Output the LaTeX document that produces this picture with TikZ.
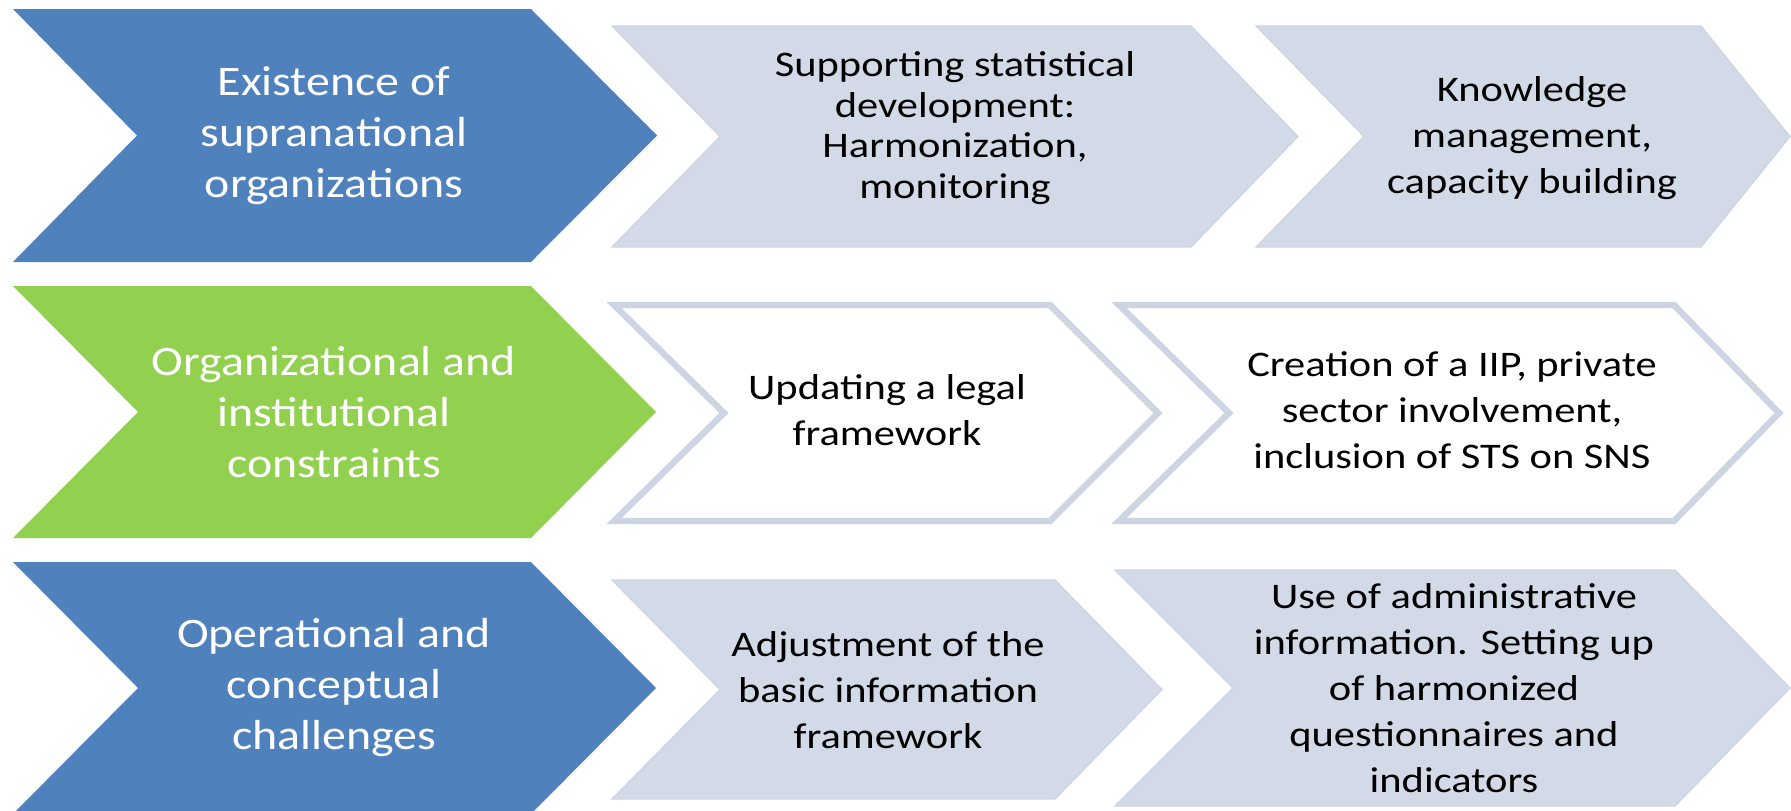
\documentclass[tikz,border=0pt]{standalone}
\usepackage{fontspec}
\setmainfont{Carlito}
\newfontfamily\headfont[FakeStretch=1.14]{Carlito}
\newfontfamily\bodyfont[FakeStretch=1.18]{Carlito}
\definecolor{blueA}{HTML}{4F81BD}
\definecolor{greenA}{HTML}{92D050}
\definecolor{grayA}{HTML}{D3DAE7}
\definecolor{edgeA}{HTML}{CDD5E2}
% #1 style, #2 left, #3 notch, #4 right, #5 tip, #6 top, #7 bottom
\newcommand\chevshape[7]{%
  \path[#1] (#2,#6) -- (#4,#6) -- (#5,{(#6+#7)/2}) -- (#4,#7) -- (#2,#7) -- (#3,{(#6+#7)/2}) -- cycle;}
\begin{document}
\begin{tikzpicture}[x=0.5pt,y=-0.5pt,
  blueshape/.style={fill=blueA},
  greenshape/.style={fill=greenA},
  grayshape/.style={fill=grayA, draw=edgeA, line width=0.6pt},
  whiteshape/.style={fill=white, draw=edgeA, line width=3.2pt, line join=miter},
  headtxt/.style={text=white, align=center, font=\headfont\fontsize{21}{25.5}\selectfont},
  bodytxt/.style={text=black, align=center, font=\bodyfont\fontsize{18}{23}\selectfont},
  smalltxt/.style={text=black, align=center, font=\bodyfont\fontsize{18}{20.3}\selectfont}]
\clip (0,0) rectangle (1791,810);
\fill[white] (0,0) rectangle (1791,810);
% row 1
\chevshape{blueshape}{13}{137}{531}{657}{9}{262}
\chevshape{grayshape}{612}{720}{1191}{1298}{26}{247}
\chevshape{grayshape}{1256}{1364}{1701}{1790}{26}{247}
\node[headtxt] (h1) at (334,135.5) {Existence of\\supranational\\organizations};
\node[smalltxt] (a1) at (955,128) {Supporting statistical\\development:\\Harmonization,\\monitoring};
\node[bodytxt] (b1) at (1532,138) {Knowledge\\management,\\capacity building};
% row 2
\chevshape{greenshape}{13}{138}{531}{656}{286}{538}
\chevshape{whiteshape}{614}{724}{1050}{1158}{305}{521}
\chevshape{whiteshape}{1119}{1229}{1674}{1779}{305}{521}
\node[headtxt] (h2) at (334,412) {Organizational and\\institutional\\constraints};
\node[bodytxt] (a2) at (887,410) {Updating a legal\\framework};
\node[bodytxt] (b2) at (1452,410) {Creation of a IIP, private\\sector involvement,\\inclusion of STS on SNS};
% row 3
\chevshape{blueshape}{13}{138}{531}{656}{562}{814}
\chevshape{grayshape}{612}{720}{1055}{1162}{580}{799}
\chevshape{grayshape}{1115}{1233}{1675}{1790}{570}{806}
\node[headtxt] (h3) at (334,688) {Operational and\\conceptual\\challenges};
\node[bodytxt] (a3) at (888,690) {Adjustment of the\\basic information\\framework};
\node[bodytxt] (b3) at (1454,688) {Use of administrative\\information. Setting up\\of harmonized\\questionnaires and\\indicators};
\end{tikzpicture}
\end{document}
